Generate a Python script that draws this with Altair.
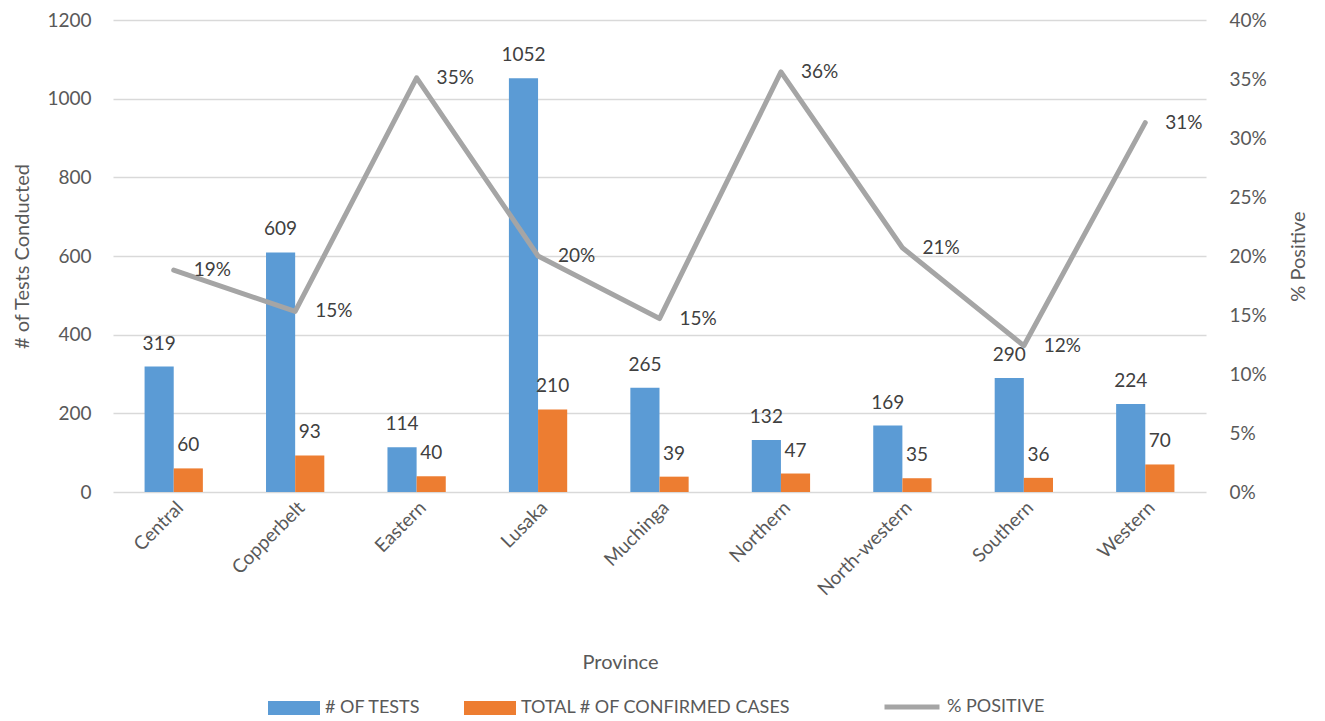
import altair as alt
import pandas as pd

provinces = ["Central", "Copperbelt", "Eastern", "Lusaka", "Muchinga",
             "Northern", "North-western", "Southern", "Western"]
tests = [319, 609, 114, 1052, 265, 132, 169, 290, 224]
confirmed = [60, 93, 40, 210, 39, 47, 35, 36, 70]
pct_positive = [0.188, 0.153, 0.351, 0.200, 0.147, 0.356, 0.207, 0.124, 0.313]

s_tests = "# OF TESTS"
s_conf = "TOTAL # OF CONFIRMED CASES"
s_pct = "% POSITIVE"

bars_df = pd.DataFrame(
    [{"Province": p, "Series": s_tests, "Value": v} for p, v in zip(provinces, tests)]
    + [{"Province": p, "Series": s_conf, "Value": v} for p, v in zip(provinces, confirmed)]
)
line_df = pd.DataFrame({"Province": provinces, "Series": s_pct, "Pct": pct_positive})

FONT = "Lato"
AX = "#595959"
LBL = "#404040"

x_enc = alt.X(
    "Province:N", sort=provinces,
    scale=alt.Scale(paddingInner=0.52, paddingOuter=0.26),
    axis=alt.Axis(title="Province", labelAngle=-45, labelFontSize=19, labelColor=AX,
                  titleFontSize=20, titleColor=AX, titleFontWeight="normal",
                  titlePadding=54, titleX=507, domain=False, ticks=False, labelPadding=6),
)

y_left = alt.Y(
    "Value:Q",
    scale=alt.Scale(domain=[0, 1200]),
    axis=alt.Axis(title="# of Tests Conducted", values=[0, 200, 400, 600, 800, 1000, 1200],
                  format="d",
                  labelFontSize=19, labelColor=AX, titleFontSize=20, titleColor=AX,
                  titleFontWeight="normal", titlePadding=14, labelPadding=22,
                  domain=False, ticks=False, grid=True, gridColor="#D9D9D9", gridWidth=1.5),
)

color_enc = alt.Color(
    "Series:N",
    scale=alt.Scale(domain=[s_tests, s_conf], range=["#5B9BD5", "#ED7D31"]),
    legend=alt.Legend(title=None, orient="none", direction="horizontal",
                      legendX=155, legendY=662, labelFontSize=18, labelColor=AX,
                      labelLimit=0,
                      symbolType="M-1,-0.27H1V0.27H-1Z", symbolSize=2704,
                      symbolStrokeWidth=0, symbolOpacity=1, columnPadding=43,
                      labelOffset=5),
)

bars = alt.Chart(bars_df).mark_bar().encode(
    x=x_enc,
    xOffset=alt.XOffset("Series:N", sort=[s_tests, s_conf]),
    y=y_left,
    color=color_enc,
)

bar_text = alt.Chart(bars_df).mark_text(
    baseline="bottom", dy=-13, fontSize=19, color=LBL, font=FONT
).encode(
    x=alt.X("Province:N", sort=provinces),
    xOffset=alt.XOffset("Series:N", sort=[s_tests, s_conf]),
    y="Value:Q",
    text="Value:Q",
)

left = alt.layer(bars, bar_text)

y_right = alt.Y(
    "Pct:Q",
    scale=alt.Scale(domain=[0, 0.4]),
    axis=alt.Axis(title="% Positive", orient="right", format=".0%",
                  values=[0, 0.05, 0.1, 0.15, 0.2, 0.25, 0.3, 0.35, 0.4],
                  labelFontSize=19, labelColor=AX, titleFontSize=20, titleColor=AX,
                  titleFontWeight="normal", titlePadding=42, titleAngle=270,
                  labelPadding=23,
                  domain=False, ticks=False, grid=False),
)

line = alt.Chart(line_df).mark_line(strokeWidth=5, strokeCap="round", strokeJoin="round").encode(
    x=alt.X("Province:N", sort=provinces),
    y=y_right,
    stroke=alt.Stroke(
        "Series:N",
        scale=alt.Scale(domain=[s_pct], range=["#A5A5A5"]),
        legend=alt.Legend(title=None, orient="none", legendX=769, legendY=657,
                          labelFontSize=18, labelColor=AX, labelLimit=0,
                          symbolType="stroke", symbolSize=3025, symbolStrokeWidth=5,
                          labelOffset=5),
    ),
)

line_text = alt.Chart(line_df).mark_text(
    align="left", baseline="middle", dx=20, dy=0, fontSize=19, color=LBL, font=FONT
).encode(
    x=alt.X("Province:N", sort=provinces),
    y=alt.Y("Pct:Q"),
    text=alt.Text("Pct:Q", format=".0%"),
)

right = alt.layer(line, line_text)

chart = alt.layer(left, right).resolve_scale(y="independent").properties(
    width=1093, height=472,
    padding={"left": 4, "top": 3, "right": 5, "bottom": 5},
).configure(font=FONT).configure_view(stroke=None)

chart.save("out.html", embed_options={"renderer": "svg", "actions": False})
